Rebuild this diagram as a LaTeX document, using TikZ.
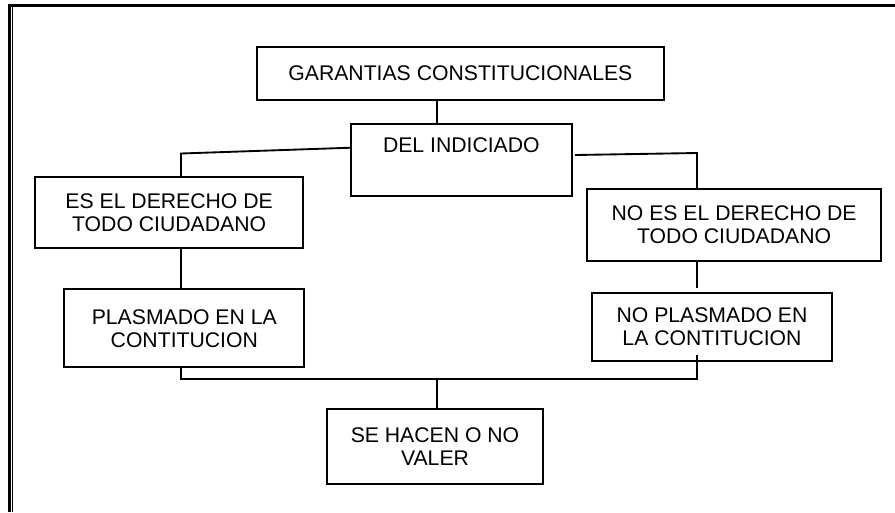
\documentclass[tikz,border=0pt]{standalone}
\usepackage{fontspec}
\setmainfont{Liberation Sans}
\begin{document}
\begin{tikzpicture}[x=0.75pt,y=-0.75pt,
  box/.style={draw, line width=1.4pt, inner sep=0pt, outer sep=0pt, align=center,
    font=\fontsize{15.9}{17.3}\selectfont},
  conn/.style={line width=1.4pt}]
\useasboundingbox (0,0) rectangle (895,512);
\fill[white] (0,0) rectangle (895,512);
% page frame (top and left only)
\draw[line width=2.2pt] (8.3,5.8) -- (895,5.8);
\draw[line width=1.8pt] (9.5,4.4) -- (9.5,512);
\draw[line width=1pt] (12.7,7) -- (12.7,512);
% boxes
\node[box, minimum width=305.5pt, minimum height=40pt] (g) at (460.35,73.35) {GARANTIAS CONSTITUCIONALES};
\node[box, minimum width=165.5pt, minimum height=53.8pt] (d) at (461.35,160.15) {DEL INDICIADO\\\strut};
\node[box, minimum width=201.2pt, minimum height=53.7pt] (es) at (169.15,212.5) {ES EL DERECHO DE\\TODO CIUDADANO};
\node[box, minimum width=180pt, minimum height=58.5pt] (pl) at (184.3,328.3) {PLASMADO EN LA\\CONTITUCION};
\node[box, minimum width=220.4pt, minimum height=53.9pt] (nes) at (734.1,224.9) {NO ES EL DERECHO DE\\TODO CIUDADANO};
\node[box, minimum width=180.5pt, minimum height=51pt] (npl) at (712,326.7) {NO PLASMADO EN\\LA CONTITUCION};
\node[box, minimum width=162.5pt, minimum height=56pt] (se) at (435,446.65) {SE HACEN O NO\\VALER};
% helper coordinates
\coordinate (xa) at (437,0);
\coordinate (xl) at (181,0);
\coordinate (xr) at (697,0);
\coordinate (dl) at (0,147.7);
\coordinate (dr) at (575,155);
\coordinate (jl) at (181,153.5);
\coordinate (jr) at (697,153);
\coordinate (nt) at (697,287.5);
\coordinate (bot) at (0,379);
\coordinate (up) at (0,355);
% connectors
\draw[conn] (g.south -| xa) -- (d.north -| xa);
\draw[conn] (d.west |- dl) -- (jl) -- (es.north -| jl);
\draw[conn] (dr) -- (jr) -- (nes.north -| jr);
\draw[conn] (es.south -| xl) -- (pl.north -| xl);
\draw[conn] (nes.south -| xr) -- (nt);
\draw[conn] (pl.south -| xl) -- (xl |- bot) -- (xr |- bot) -- (xr |- up);
\draw[conn] (xa |- bot) -- (se.north -| xa);
\end{tikzpicture}
\end{document}
